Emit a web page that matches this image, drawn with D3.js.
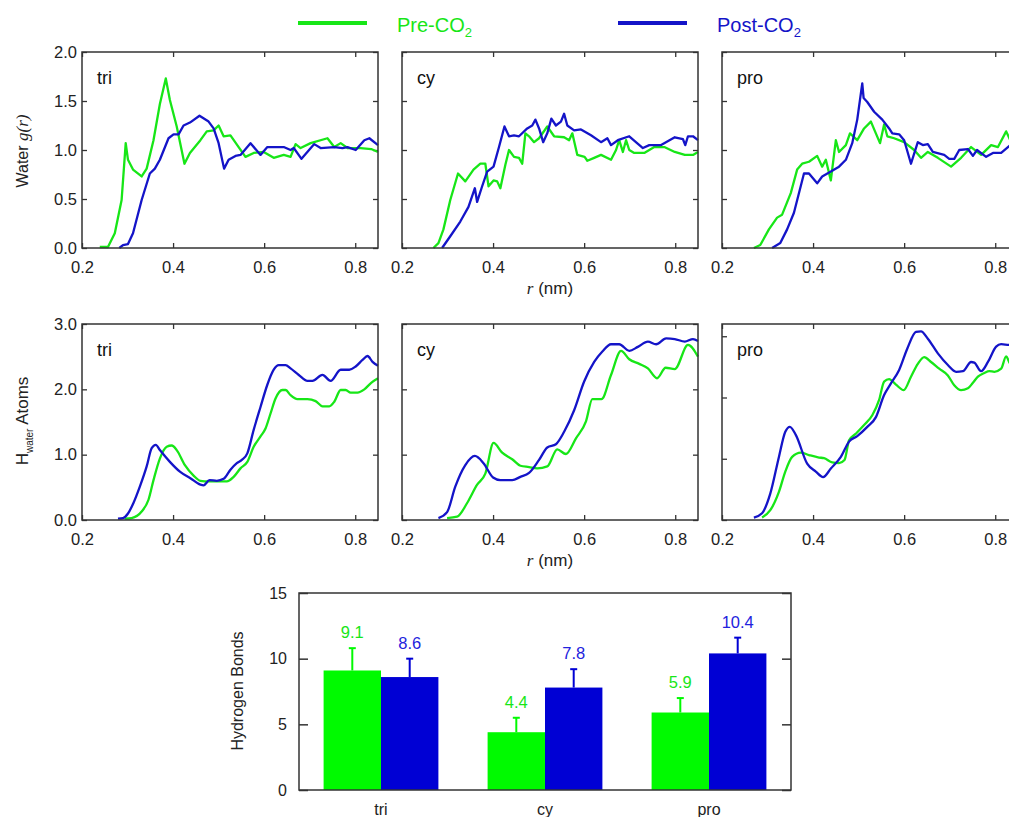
<!DOCTYPE html>
<html>
<head>
<meta charset="utf-8">
<script src="https://cdn.jsdelivr.net/npm/d3@7"></script>
<style>
body { margin: 0; background: #fff; }
svg { display: block; font-family: "Liberation Sans", Arial, sans-serif; }
</style>
</head>
<body>
<svg id="chart" width="1009" height="817"></svg>
<script>
// colours
var preColor = "#17e617";
var postColor = "#1414c8";
var barPreColor = "#00fa00";
var barPostColor = "#0000d4";
var frameColor = "#333";

var panelNames = ["tri", "cy", "pro"];
var rTicks = [0.2, 0.4, 0.6, 0.8];
var grTicks = [0, 0.5, 1.0, 1.5, 2.0];
var hTicks = [0, 1, 2, 3];
var hMax = [3, 3, 3.2];
var bondTicks = [0, 5, 10, 15];

// water g(r), pre / post CO2  [r (nm), g(r)]
var grTriPre = [[0.239,0.01],[0.257,0.01],[0.272,0.15],[0.287,0.49],[0.296,1.07],[0.301,0.90],[0.312,0.80],[0.331,0.73],[0.342,0.81],[0.357,1.10],[0.371,1.47],[0.384,1.73],[0.393,1.51],[0.408,1.24],[0.425,0.86],[0.437,0.97],[0.460,1.10],[0.474,1.19],[0.489,1.20],[0.500,1.25],[0.511,1.14],[0.526,1.15],[0.544,1.03],[0.559,0.93],[0.577,0.97],[0.599,0.98],[0.621,0.92],[0.643,0.95],[0.658,0.93],[0.669,1.06],[0.680,1.02],[0.702,1.07],[0.739,1.12],[0.754,1.03],[0.768,1.07],[0.783,1.02],[0.812,1.02],[0.835,1.01],[0.85,0.98]];
var grTriPost = [[0.282,0.0],[0.290,0.03],[0.301,0.04],[0.312,0.15],[0.331,0.49],[0.349,0.76],[0.360,0.81],[0.371,0.90],[0.390,1.12],[0.401,1.16],[0.412,1.16],[0.423,1.25],[0.437,1.28],[0.458,1.35],[0.478,1.29],[0.489,1.22],[0.500,1.07],[0.512,0.81],[0.522,0.90],[0.537,0.94],[0.548,0.95],[0.570,1.07],[0.592,0.95],[0.607,1.03],[0.643,1.03],[0.658,1.00],[0.665,1.02],[0.682,0.91],[0.710,1.06],[0.724,1.02],[0.754,1.03],[0.772,1.02],[0.783,1.03],[0.801,1.00],[0.820,1.10],[0.831,1.12],[0.85,1.05]];
var grCyPre = [[0.269,0],[0.280,0.05],[0.291,0.19],[0.306,0.49],[0.323,0.76],[0.339,0.68],[0.357,0.80],[0.372,0.86],[0.383,0.86],[0.390,0.63],[0.401,0.69],[0.409,0.68],[0.416,0.61],[0.427,0.85],[0.435,1.0],[0.446,0.93],[0.457,0.92],[0.464,0.86],[0.471,1.17],[0.479,1.14],[0.490,1.08],[0.501,1.12],[0.519,1.24],[0.534,1.14],[0.556,1.13],[0.567,1.10],[0.574,1.17],[0.585,0.95],[0.601,0.93],[0.607,0.89],[0.622,0.92],[0.637,0.95],[0.659,0.90],[0.670,1.00],[0.677,1.10],[0.685,0.98],[0.692,1.10],[0.699,1.00],[0.710,0.97],[0.732,0.97],[0.754,1.03],[0.776,1.03],[0.799,0.98],[0.821,0.95],[0.839,0.95],[0.85,0.98]];
var grCyPost = [[0.288,0],[0.306,0.12],[0.328,0.27],[0.346,0.42],[0.360,0.61],[0.365,0.47],[0.376,0.63],[0.387,0.78],[0.401,0.83],[0.413,1.03],[0.425,1.24],[0.435,1.14],[0.446,1.15],[0.457,1.14],[0.475,1.22],[0.486,1.25],[0.493,1.31],[0.501,1.22],[0.510,1.08],[0.519,1.17],[0.528,1.32],[0.538,1.25],[0.549,1.29],[0.556,1.37],[0.563,1.25],[0.578,1.20],[0.593,1.21],[0.615,1.15],[0.637,1.08],[0.651,1.12],[0.659,1.05],[0.674,1.10],[0.699,1.14],[0.729,1.02],[0.743,1.05],[0.769,1.05],[0.799,1.13],[0.817,1.11],[0.822,1.05],[0.828,1.14],[0.839,1.14],[0.85,1.10]];
var grProPre = [[0.270,0],[0.284,0.03],[0.303,0.19],[0.321,0.31],[0.332,0.34],[0.351,0.56],[0.365,0.80],[0.376,0.86],[0.391,0.88],[0.409,0.94],[0.420,0.83],[0.428,0.90],[0.439,0.69],[0.450,1.10],[0.457,0.98],[0.472,1.05],[0.481,1.17],[0.497,1.10],[0.512,1.22],[0.527,1.29],[0.536,1.19],[0.547,1.07],[0.556,1.26],[0.563,1.14],[0.578,1.12],[0.600,1.08],[0.622,1.00],[0.637,0.92],[0.652,0.98],[0.674,0.92],[0.703,0.83],[0.725,0.92],[0.747,1.03],[0.769,0.95],[0.791,1.05],[0.806,1.03],[0.824,1.19],[0.833,1.10],[0.85,1.15]];
var grProPost = [[0.310,0],[0.328,0.05],[0.343,0.19],[0.358,0.36],[0.380,0.76],[0.391,0.76],[0.409,0.66],[0.420,0.73],[0.439,0.78],[0.457,0.83],[0.472,0.90],[0.486,1.07],[0.497,1.31],[0.508,1.68],[0.511,1.53],[0.519,1.49],[0.534,1.39],[0.552,1.31],[0.567,1.22],[0.574,1.17],[0.589,1.16],[0.600,1.10],[0.615,0.86],[0.630,1.08],[0.641,1.05],[0.652,1.06],[0.663,0.98],[0.688,0.95],[0.699,0.91],[0.710,0.91],[0.721,1.00],[0.740,1.01],[0.751,0.94],[0.760,1.00],[0.780,0.93],[0.795,0.97],[0.813,0.97],[0.833,1.05],[0.85,1.05]];

// H_water atoms, pre / post CO2  [r (nm), count]
var hTriPre = [[0.294,0.02],[0.309,0.03],[0.331,0.13],[0.346,0.31],[0.357,0.61],[0.371,0.94],[0.386,1.12],[0.397,1.14],[0.408,1.07],[0.426,0.84],[0.445,0.68],[0.460,0.60],[0.478,0.59],[0.496,0.59],[0.518,0.59],[0.533,0.66],[0.548,0.79],[0.563,0.89],[0.577,1.12],[0.592,1.28],[0.603,1.40],[0.614,1.63],[0.625,1.86],[0.640,1.99],[0.647,1.99],[0.658,1.91],[0.673,1.85],[0.695,1.85],[0.713,1.82],[0.728,1.74],[0.743,1.74],[0.754,1.81],[0.768,1.99],[0.779,1.99],[0.790,1.95],[0.805,1.95],[0.820,2.00],[0.835,2.10],[0.85,2.17]];
var hTriPost = [[0.279,0.02],[0.290,0.03],[0.301,0.10],[0.313,0.26],[0.327,0.51],[0.342,0.82],[0.353,1.10],[0.362,1.15],[0.371,1.07],[0.393,0.89],[0.415,0.74],[0.438,0.64],[0.460,0.54],[0.467,0.53],[0.480,0.61],[0.496,0.60],[0.511,0.63],[0.526,0.77],[0.540,0.87],[0.551,0.92],[0.563,1.02],[0.577,1.38],[0.592,1.73],[0.607,2.07],[0.621,2.30],[0.632,2.37],[0.647,2.37],[0.658,2.32],[0.676,2.22],[0.695,2.13],[0.706,2.13],[0.728,2.22],[0.746,2.13],[0.768,2.30],[0.787,2.30],[0.801,2.35],[0.816,2.45],[0.827,2.51],[0.838,2.42],[0.85,2.36]];
var hCyPre = [[0.299,0.03],[0.321,0.05],[0.343,0.26],[0.365,0.54],[0.383,0.71],[0.401,1.18],[0.420,1.03],[0.442,0.93],[0.460,0.83],[0.479,0.81],[0.497,0.79],[0.519,0.82],[0.541,1.08],[0.560,1.01],[0.582,1.25],[0.604,1.51],[0.618,1.85],[0.638,1.85],[0.659,2.22],[0.681,2.59],[0.699,2.46],[0.721,2.39],[0.740,2.32],[0.760,2.17],[0.779,2.33],[0.799,2.31],[0.828,2.68],[0.85,2.50]];
var hCyPost = [[0.280,0.03],[0.299,0.12],[0.317,0.51],[0.339,0.84],[0.360,0.98],[0.379,0.87],[0.400,0.65],[0.416,0.61],[0.442,0.61],[0.460,0.66],[0.479,0.72],[0.501,0.92],[0.519,1.11],[0.538,1.16],[0.556,1.35],[0.578,1.68],[0.600,2.12],[0.622,2.42],[0.640,2.58],[0.659,2.69],[0.677,2.69],[0.699,2.59],[0.718,2.65],[0.740,2.73],[0.758,2.69],[0.780,2.78],[0.799,2.77],[0.821,2.73],[0.839,2.77],[0.85,2.74]];
var hProPre = [[0.288,0.04],[0.306,0.16],[0.325,0.46],[0.339,0.79],[0.354,1.03],[0.373,1.10],[0.391,1.06],[0.413,1.02],[0.424,1.01],[0.442,0.94],[0.457,0.93],[0.469,0.98],[0.479,1.30],[0.494,1.41],[0.512,1.55],[0.530,1.71],[0.545,1.96],[0.556,2.26],[0.567,2.30],[0.582,2.21],[0.599,2.12],[0.615,2.34],[0.630,2.55],[0.644,2.66],[0.659,2.58],[0.677,2.47],[0.696,2.36],[0.710,2.20],[0.725,2.12],[0.740,2.15],[0.751,2.24],[0.762,2.34],[0.776,2.40],[0.787,2.43],[0.798,2.42],[0.813,2.47],[0.824,2.67],[0.833,2.55],[0.85,2.50]];
var hProPost = [[0.270,0.04],[0.288,0.11],[0.306,0.43],[0.325,1.03],[0.339,1.44],[0.349,1.52],[0.362,1.39],[0.387,0.92],[0.406,0.79],[0.422,0.70],[0.439,0.84],[0.461,1.03],[0.479,1.28],[0.497,1.37],[0.519,1.52],[0.538,1.68],[0.556,2.04],[0.571,2.23],[0.589,2.45],[0.607,2.80],[0.626,3.07],[0.637,3.08],[0.652,2.96],[0.674,2.72],[0.696,2.53],[0.714,2.42],[0.729,2.43],[0.747,2.58],[0.754,2.57],[0.769,2.43],[0.784,2.58],[0.802,2.83],[0.813,2.87],[0.831,2.86],[0.85,2.88]];

var grPre = [grTriPre, grCyPre, grProPre];
var grPost = [grTriPost, grCyPost, grProPost];
var hPre = [hTriPre, hCyPre, hProPre];
var hPost = [hTriPost, hCyPost, hProPost];

// hydrogen bonds
var bondCats = ["tri", "cy", "pro"];
var bondPre = [9.1, 4.4, 5.9];
var bondPost = [8.6, 7.8, 10.4];
var bondPreErr = [1.7, 1.1, 1.1];
var bondPostErr = [1.4, 1.4, 1.2];

var svg = d3.select("#chart");

var panelX = [82, 402, 722];
var panelW = 296, panelH = 196;
var rowY = [52, 324];

function drawPanel(x0, y0, yMax, yTicks, fmt, pre, post, name, showY, curve) {
    var g = svg.append("g");
    var x = d3.scaleLinear().domain([0.2, 0.85]).range([x0, x0 + panelW]);
    var y = d3.scaleLinear().domain([0, yMax]).range([y0 + panelH, y0]);

    //inward ticks on all four sides
    var left = g.append("g").attr("transform", "translate(" + x0 + ",0)")
        .call(d3.axisLeft(y).tickValues(yTicks).tickSize(-5).tickPadding(5)
            .tickFormat(showY ? d3.format(fmt) : ""));
    var right = g.append("g").attr("transform", "translate(" + (x0 + panelW) + ",0)")
        .call(d3.axisRight(y).tickValues(yTicks).tickSize(-5).tickFormat(""));
    var top = g.append("g").attr("transform", "translate(0," + y0 + ")")
        .call(d3.axisTop(x).tickValues(rTicks).tickSize(-5).tickFormat(""));
    var bottom = g.append("g").attr("transform", "translate(0," + (y0 + panelH) + ")")
        .call(d3.axisBottom(x).tickValues(rTicks).tickSize(-5).tickPadding(13)
            .tickFormat(d3.format(".1f")));
    [left, right, top, bottom].forEach(function (a) {
        a.select(".domain").remove();
        a.selectAll("line").attr("stroke", frameColor).attr("stroke-width", 1.3);
        a.selectAll("text").attr("fill", "#222").style("font-size", "16.5px")
            .style("font-family", "'Liberation Sans', Arial, sans-serif");
    });

    var line = d3.line()
        .x(function (d) { return x(d[0]); })
        .y(function (d) { return y(d[1]); })
        .curve(curve);

    g.append("path").datum(pre).attr("d", line)
        .attr("fill", "none").attr("stroke", preColor).attr("stroke-width", 2.3)
        .attr("stroke-linejoin", "round");
    g.append("path").datum(post).attr("d", line)
        .attr("fill", "none").attr("stroke", postColor).attr("stroke-width", 2.3)
        .attr("stroke-linejoin", "round");

    g.append("rect").attr("x", x0).attr("y", y0)
        .attr("width", panelW).attr("height", panelH)
        .attr("fill", "none").attr("stroke", frameColor).attr("stroke-width", 1.5);

    g.append("text").attr("x", x0 + 15).attr("y", y0 + 32)
        .style("font-size", "18px").attr("fill", "#111").text(name);
}

for (var i = 0; i < 3; i++) {
    drawPanel(panelX[i], rowY[0], 2, grTicks, ".1f", grPre[i], grPost[i], panelNames[i], i == 0, d3.curveLinear);
    drawPanel(panelX[i], rowY[1], hMax[i], hTicks, ".1f", hPre[i], hPost[i], panelNames[i], i == 0, d3.curveMonotoneX);
}

// r (nm) labels under the middle panels
[rowY[0], rowY[1]].forEach(function (ry) {
    var t = svg.append("text").attr("x", panelX[1] + panelW / 2).attr("y", ry + panelH + 46)
        .attr("text-anchor", "middle").style("font-size", "17px").attr("fill", "#222");
    t.append("tspan").style("font-family", "'Liberation Serif', serif").style("font-style", "italic").text("r");
    t.append("tspan").text(" (nm)");
});

// y axis titles
var t1 = svg.append("text").attr("transform", "translate(28,151) rotate(-90)")
    .attr("text-anchor", "middle").style("font-size", "16px").attr("fill", "#222");
t1.append("tspan").text("Water ");
t1.append("tspan").style("font-family", "'Liberation Serif', serif").style("font-style", "italic")
    .style("font-size", "17px").text("g(r)");

var t2 = svg.append("text").attr("transform", "translate(28,421) rotate(-90)")
    .attr("text-anchor", "middle").style("font-size", "17px").attr("fill", "#222");
t2.append("tspan").text("H");
t2.append("tspan").attr("dy", 5).style("font-size", "10px").text("water");
t2.append("tspan").attr("dy", -5).text(" Atoms");

// legend
var legend = [
    { label: "Pre-CO", color: preColor, x1: 298, x2: 367, tx: 397 },
    { label: "Post-CO", color: postColor, x1: 618, x2: 687, tx: 717 }
];
legend.forEach(function (l) {
    svg.append("line").attr("x1", l.x1).attr("x2", l.x2).attr("y1", 23).attr("y2", 23)
        .attr("stroke", l.color).attr("stroke-width", 4);
    var t = svg.append("text").attr("x", l.tx).attr("y", 31.5)
        .style("font-size", "20px").attr("fill", l.color);
    t.append("tspan").text(l.label);
    t.append("tspan").attr("dy", 5).style("font-size", "13px").text("2");
});

// hydrogen bond bar chart
var bx0 = 299, bx1 = 791, by0 = 593, by1 = 790;
var xb = d3.scaleBand().domain(bondCats).range([bx0, bx1]).paddingInner(0.3).paddingOuter(0.15);
var xs = d3.scaleBand().domain(["pre", "post"]).range([0, xb.bandwidth()]);
var yb = d3.scaleLinear().domain([0, 15]).range([by1, by0]);

var bl = svg.append("g").attr("transform", "translate(" + bx0 + ",0)")
    .call(d3.axisLeft(yb).tickValues(bondTicks).tickSize(-9).tickPadding(12).tickFormat(d3.format("d")));
var br = svg.append("g").attr("transform", "translate(" + bx1 + ",0)")
    .call(d3.axisRight(yb).tickValues(bondTicks).tickSize(-9).tickFormat(""));
[bl, br].forEach(function (a) {
    a.select(".domain").remove();
    a.selectAll("line").attr("stroke", frameColor).attr("stroke-width", 1.5);
    a.selectAll("text").attr("fill", "#222").style("font-size", "16px")
        .style("font-family", "'Liberation Sans', Arial, sans-serif");
});

var bars = [];
bondCats.forEach(function (c, i) {
    bars.push({ cat: c, key: "pre", v: bondPre[i], e: bondPreErr[i], color: barPreColor, tcolor: preColor });
    bars.push({ cat: c, key: "post", v: bondPost[i], e: bondPostErr[i], color: barPostColor, tcolor: "#2222dd" });
});

svg.selectAll(".bar").data(bars).enter().append("rect").attr("class", "bar")
    .attr("x", function (d) { return xb(d.cat) + xs(d.key); })
    .attr("y", function (d) { return yb(d.v); })
    .attr("width", xs.bandwidth())
    .attr("height", function (d) { return yb(0) - yb(d.v); })
    .attr("fill", function (d) { return d.color; });

// error bars (upper only)
bars.forEach(function (d) {
    var cx = xb(d.cat) + xs(d.key) + xs.bandwidth() / 2;
    svg.append("line").attr("x1", cx).attr("x2", cx)
        .attr("y1", yb(d.v)).attr("y2", yb(d.v + d.e))
        .attr("stroke", d.color).attr("stroke-width", 2);
    svg.append("line").attr("x1", cx - 3.5).attr("x2", cx + 3.5)
        .attr("y1", yb(d.v + d.e)).attr("y2", yb(d.v + d.e))
        .attr("stroke", d.color).attr("stroke-width", 2);
    svg.append("text").attr("x", cx).attr("y", yb(d.v + d.e) - 10)
        .attr("text-anchor", "middle").style("font-size", "16.5px")
        .attr("fill", d.tcolor).text(d3.format(".1f")(d.v));
});

svg.append("rect").attr("x", bx0).attr("y", by0)
    .attr("width", bx1 - bx0).attr("height", by1 - by0)
    .attr("fill", "none").attr("stroke", frameColor).attr("stroke-width", 1.5);

bondCats.forEach(function (c) {
    svg.append("text").attr("x", xb(c) + xb.bandwidth() / 2).attr("y", 815)
        .attr("text-anchor", "middle").style("font-size", "16px").attr("fill", "#222").text(c);
});

svg.append("text").attr("transform", "translate(243,691) rotate(-90)")
    .attr("text-anchor", "middle").style("font-size", "16px").attr("fill", "#222")
    .text("Hydrogen Bonds");
</script>
</body>
</html>
